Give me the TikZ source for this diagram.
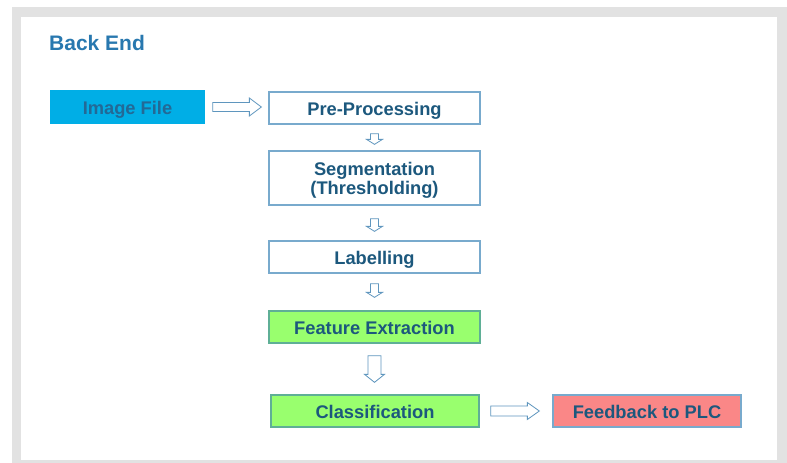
\documentclass[tikz,border=0pt]{standalone}
\usepackage{fontspec}
\setmainfont{Liberation Sans}
\usetikzlibrary{calc}
\definecolor{panelgrey}{RGB}{226,226,226}
\definecolor{titleblue}{RGB}{40,120,175}
\definecolor{txtblue}{RGB}{28,88,125}
\definecolor{boxedge}{RGB}{120,170,205}
\definecolor{cyanfill}{RGB}{0,174,230}
\definecolor{cyantxt}{RGB}{35,105,150}
\definecolor{greenfill}{RGB}{153,255,110}
\definecolor{greenedge}{RGB}{95,175,150}
\definecolor{redfill}{RGB}{250,135,135}
\definecolor{arrowedge}{RGB}{95,150,190}
\tikzset{
  basebox/.style={draw=boxedge, line width=1.3pt, fill=white, minimum width=211pt, minimum height=32pt,
    inner sep=0pt, text=txtblue, font=\fontsize{18.3pt}{19pt}\selectfont\bfseries, align=center},
  stepbox/.style={basebox, text height=17pt, text depth=2pt},
  greenbox/.style={stepbox, fill=greenfill, draw=greenedge},
  arrowline/.style={draw=arrowedge, line width=0.8pt, fill=white, line join=miter},
}
\newcommand\hollowdown[5]{%
  \path[arrowline] let \p1=#1, \p2=#2 in
    ($(\x1,\y1)+(-#3,0)$) -- ($(\x1,\y1)+(#3,0)$) -- ($(\x1,\y2)+(#3,-#5)$) -- ($(\x1,\y2)+(#4,-#5)$)
    -- (\x1,\y2) -- ($(\x1,\y2)+(-#4,-#5)$) -- ($(\x1,\y2)+(-#3,-#5)$) -- cycle;}
\newcommand\hollowright[5]{%
  \path[arrowline] let \p1=#1, \p2=#2 in
    ($(\x1,\y1)+(0,#3)$) -- ($(\x2,\y1)+(-#5,#3)$) -- ($(\x2,\y1)+(-#5,#4)$) -- (\x2,\y1)
    -- ($(\x2,\y1)+(-#5,-#4)$) -- ($(\x2,\y1)+(-#5,-#3)$) -- ($(\x1,\y1)+(0,-#3)$) -- cycle;}
\begin{document}
\begin{tikzpicture}[x=1pt,y=-1pt]
\useasboundingbox (0,0) rectangle (787,463);
\fill[white] (0,0) rectangle (787,463);
\fill[panelgrey] (12,7) rectangle (787,463);
\fill[white] (21,17) rectangle (777,460);

\node[anchor=west, text=titleblue, font=\fontsize{21pt}{24pt}\selectfont\bfseries, inner sep=0pt] (title) at (49,43) {Back End};

\node[stepbox, fill=cyanfill, draw=cyanfill, text=cyantxt, minimum width=153pt] (img) at (127.5,107) {Image File};
\node[stepbox] (pre) at (374.5,108) {Pre-Processing};
\node[basebox, minimum height=54pt] (seg) at (374.5,178) {\rule{0pt}{17.5pt}Segmentation\\(Thresholding)};
\node[stepbox] (lab) at (374.5,257) {Labelling};
\node[greenbox] (feat) at (374.5,327) {Feature Extraction};
\node[greenbox, minimum width=208pt] (cls) at (375,411) {Classification};
\node[stepbox, fill=redfill, minimum width=188pt] (fb) at (647,411) {Feedback to PLC};

\hollowright{($(img.east)+(8,0)$)}{($(pre.west)+(-7,0)$)}{4.5}{9}{12}
\hollowdown{($(pre.south)+(0,9)$)}{($(seg.north)+(0,-6)$)}{4}{8}{5}
\hollowdown{($(seg.south)+(0,13)$)}{($(lab.north)+(0,-9)$)}{4}{8}{5}
\hollowdown{($(lab.south)+(0,10)$)}{($(feat.north)+(0,-13)$)}{4}{8}{5}
\hollowdown{($(feat.south)+(0,12)$)}{($(cls.north)+(0,-12)$)}{6.5}{10}{8}
\hollowright{($(cls.east)+(11,0)$)}{($(fb.west)+(-13,0)$)}{5}{8.5}{12}
\end{tikzpicture}
\end{document}
